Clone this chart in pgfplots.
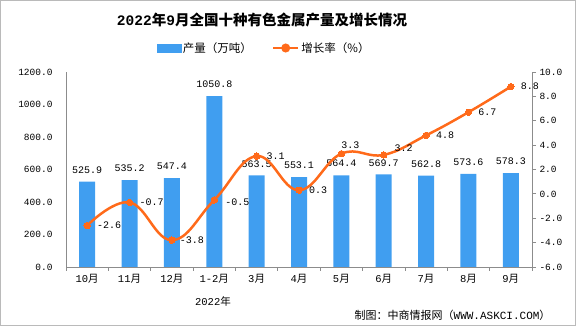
\documentclass[border=0pt]{standalone}
\usepackage{pgfplots}
\pgfplotsset{compat=1.18}
\usepackage{pgfplotstable}
\usepackage{fontspec}
\setmainfont{Noto Sans CJK SC}
\newfontfamily\num{Liberation Mono}
\definecolor{barblue}{RGB}{64,158,240}
\definecolor{lineorange}{RGB}{255,106,26}
\definecolor{axisgray}{RGB}{140,140,140}

\pgfplotstableread{
x  y      lab
0  525.9  525.9
1  535.2  535.2
2  547.4  547.4
3  1050.8 1050.8
4  563.5  563.5
5  553.1  553.1
6  564.4  564.4
7  569.7  569.7
8  562.8  562.8
9  573.6  573.6
10 578.3  578.3
}\prodtable

\pgfplotstableread{
x  y    lab  dx  dy
0  -2.6 -2.6 10  0
1  -0.7 -0.7 10  0
2  -3.8 -3.8 8   0
3  -0.5 -0.5 11  -2
4  3.1  3.1  10  0
5  0.3  0.3  10  0
6  3.3  3.3  0   8
7  3.2  3.2  11  7
8  4.8  4.8  10  0
9  6.7  6.7  10  0
10 8.8  8.8  10  0
}\ratetable

\begin{document}
\begin{tikzpicture}[x=1pt,y=1pt]
\path[use as bounding box] (0,0) rectangle (576,326);
\draw[axisgray!60, line width=1pt] (0.5,0.5) rectangle (575.5,325.5);

\begin{axis}[
  at={(66pt,59pt)}, anchor=south west, scale only axis,
  width=466pt, height=195pt,
  xmin=-0.5, xmax=10.5, ymin=0, ymax=1200,
  axis x line*=bottom, axis y line*=left,
  axis line style={axisgray, line width=0.8pt},
  tick align=outside,
  major tick length=0pt, minor tick length=4pt,
  xtick={0,...,10},
  minor xtick={-0.5,0.5,1.5,2.5,3.5,4.5,5.5,6.5,7.5,8.5,9.5,10.5},
  minor tick style={axisgray, line width=0.8pt},
  xticklabels={{\num 10}月,{\num 11}月,{\num 12}月,{\num 1-2}月,{\num 3}月,{\num 4}月,{\num 5}月,{\num 6}月,{\num 7}月,{\num 8}月,{\num 9}月},
  xticklabel style={font=\fontsize{10.5}{12}\selectfont, yshift=-4pt},
  ytick={0,200,...,1200},
  scaled y ticks=false,
  yticklabel style={font=\num\fontsize{9.5}{11}\selectfont, xshift=-10pt},
  /pgf/number format/.cd, fixed, fixed zerofill, precision=1, assume math mode=true, 1000 sep={},
]
\addplot[ybar, bar width=16pt, fill=barblue, draw=none,
  nodes near coords, point meta=explicit symbolic,
  every node near coord/.append style={font=\num\fontsize{10}{12}\selectfont, anchor=south, inner sep=0pt, yshift=8pt, text=black}]
  table[x=x, y=y, meta=lab] {\prodtable};
\end{axis}

\begin{axis}[
  at={(66pt,59pt)}, anchor=south west, scale only axis,
  width=466pt, height=195pt,
  xmin=-0.5, xmax=10.5, ymin=-6, ymax=10,
  axis x line=none, axis y line*=right,
  axis line style={axisgray, line width=0.8pt},
  tick align=outside, major tick length=4pt,
  ytick={-6,-4,...,10},
  ytick style={axisgray, line width=0.8pt},
  yticklabel style={font=\num\fontsize{9.5}{11}\selectfont},
  /pgf/number format/.cd, fixed, fixed zerofill, precision=1, assume math mode=true, 1000 sep={},
  /pgfplots/.cd,
  legend columns=2,
  legend style={at={(0.425,1.123)}, anchor=center, draw=none, fill=none,
    font=\fontsize{11.5}{13}\selectfont,
    /tikz/every even column/.append style={column sep=18pt}},
]
\addlegendimage{legend image code/.code={\fill[barblue] (0pt,-4pt) rectangle (24pt,4pt);}}
\addlegendentry{产量（万吨）}
\addplot[lineorange, line width=2.5pt, smooth, tension=0.7, mark=*, mark size=3.2pt,
  mark options={fill=lineorange, draw=lineorange, line width=0pt},
  nodes near coords, point meta=explicit symbolic,
  visualization depends on={\thisrow{dx} \as \dx},
  visualization depends on={\thisrow{dy} \as \dy},
  every node near coord/.append style={font=\num\fontsize{10}{12}\selectfont, anchor=west, inner sep=0pt, xshift=\dx, yshift=\dy, text=black},
  legend image code/.code={\draw[lineorange, line width=2.5pt] (0pt,0pt) -- (25pt,0pt); \fill[lineorange] (12.5pt,0pt) circle (3.2pt);}]
  table[x=x, y=y, meta=lab] {\ratetable};
\addlegendentry{增长率（\%）}
\end{axis}

\node[font=\bfseries\fontsize{14.5}{16}\selectfont] at (262,306) {{\num\bfseries 2022}年{\num\bfseries 9}月全国十种有色金属产量及增长情况};
\node[font=\fontsize{10.5}{12}\selectfont] at (213,25) {{\num 2022}年};
\node[font=\fontsize{11}{13}\selectfont, anchor=east] at (554,11) {制图：中商情报网（{\num WWW.ASKCI.COM}）};
\end{tikzpicture}
\end{document}
